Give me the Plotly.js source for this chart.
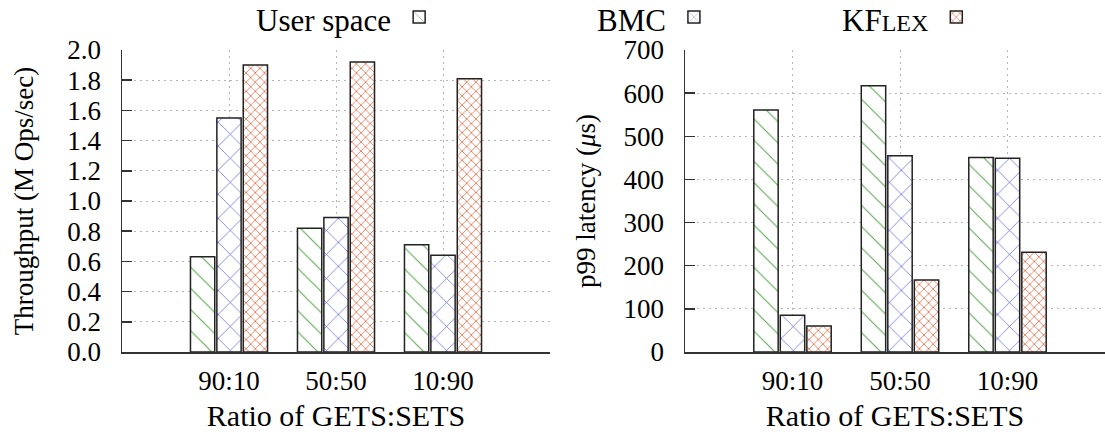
<!DOCTYPE html>
<html>
<head>
<meta charset="utf-8">
<script src="https://cdn.plot.ly/plotly-3.0.1.min.js"></script>
<style>html,body{margin:0;padding:0;background:#fff;}#chart{width:1105px;height:435px;}</style>
</head>
<body>
<div id="chart"></div>
<script>
// ---- data ----
const categories = ['90:10', '50:50', '10:90'];
const seriesNames = ['User space', 'BMC', 'KF<span style="font-size:24px">LEX</span>'];
const throughputUser = [0.63, 0.82, 0.71];
const throughputBMC = [1.55, 0.89, 0.64];
const throughputKFlex = [1.90, 1.92, 1.81];
const latencyUser = [561, 617, 451];
const latencyBMC = [85, 455, 449];
const latencyKFlex = [60, 167, 231];
const throughputTicks = [0, 0.2, 0.4, 0.6, 0.8, 1.0, 1.2, 1.4, 1.6, 1.8, 2.0];
const latencyTicks = [0, 100, 200, 300, 400, 500, 600, 700];

// ---- styles ----
const FONT = 'Liberation Serif, Times New Roman, serif';
const patterns = [
  {shape: '\\', fgcolor: '#5aa84f', bgcolor: '#ffffff', size: 15, solidity: 0.07},
  {shape: 'x', fgcolor: '#5b5bd6', bgcolor: '#ffffff', size: 17, solidity: 0.08},
  {shape: 'x', fgcolor: '#e0552a', bgcolor: '#ffffff', size: 6.5, solidity: 0.2}
];
const legendIds = ['legend', 'legend2', 'legend3'];
const plainNames = ['User space', 'BMC', 'KFlex'];

function barTrace(vals, i, xa, ya, showLeg) {
  return {
    type: 'bar', x: categories, y: vals, xaxis: xa, yaxis: ya,
    name: '', legend: legendIds[i], showlegend: showLeg,
    hovertemplate: plainNames[i] + ': %{y}<extra></extra>',
    marker: {color: '#ffffff', pattern: patterns[i], line: {color: '#222', width: 1.5}}
  };
}

const data = [
  barTrace(throughputUser, 0, 'x', 'y', true),
  barTrace(throughputBMC, 1, 'x', 'y', true),
  barTrace(throughputKFlex, 2, 'x', 'y', true),
  barTrace(latencyUser, 0, 'x2', 'y2', false),
  barTrace(latencyBMC, 1, 'x2', 'y2', false),
  barTrace(latencyKFlex, 2, 'x2', 'y2', false)
];

const gridStyle = {showgrid: true, gridcolor: '#b5b5b5', griddash: '2px,4px', gridwidth: 1};
const yDomain = [83 / 435, 385 / 435];

function xAxis(domain, range, anchor) {
  return Object.assign({
    domain: domain, range: range, anchor: anchor, type: 'category',
    showline: true, linecolor: '#333', linewidth: 1.5, ticks: '', zeroline: false,
    tickfont: {family: FONT, size: 27, color: '#000'}, ticklabelstandoff: 4,
    title: {text: 'Ratio of GETS:SETS', font: {family: FONT, size: 30, color: '#000'}, standoff: 10}
  }, gridStyle);
}
function yAxis(range, ticks, fmt, title, anchor, standoff) {
  return Object.assign({
    domain: yDomain, range: range, anchor: anchor, tickvals: ticks, tickformat: fmt,
    showline: true, linecolor: '#333', linewidth: 1.5, ticks: 'inside', ticklen: 10,
    tickcolor: '#333', tickwidth: 1.5, zeroline: false,
    tickfont: {family: FONT, size: 27, color: '#000'}, ticklabelstandoff: 14,
    title: {text: title, font: {family: FONT, size: 27, color: '#000'}, standoff: standoff}
  }, gridStyle);
}

function legendCfg(i, x) {
  return {
    x: x, y: 1.022, xanchor: 'left', yanchor: 'top', orientation: 'h',
    bgcolor: 'rgba(0,0,0,0)', borderwidth: 0,
    font: {family: FONT, size: 31, color: '#000'},
    title: {text: seriesNames[i], side: 'left', font: {family: FONT, size: 31, color: '#000'}}
  };
}

const layout = {
  width: 1105, height: 435,
  margin: {l: 0, r: 0, t: 0, b: 0, autoexpand: false},
  paper_bgcolor: '#fff', plot_bgcolor: '#fff',
  font: {family: FONT, color: '#000'},
  barmode: 'group', bargap: 0.26, bargroupgap: 0.08,
  xaxis: xAxis([122 / 1105, 550 / 1105], [-1, 3], 'y'),
  yaxis: yAxis([0, 2.0], throughputTicks, '.1f', 'Throughput (M Ops/sec)', 'x', 26),
  xaxis2: xAxis([685 / 1105, 1], [-1, 2.907], 'y2'),
  yaxis2: yAxis([0, 700], latencyTicks, 'd', '\u00a0\u00a0\u00a0\u00a0p99 latency (<i>μ</i>s)', 'x2', 20),
  legend: legendCfg(0, 254 / 1105),
  legend2: legendCfg(1, 595 / 1105),
  legend3: legendCfg(2, 840 / 1105)
};

Plotly.newPlot('chart', data, layout, {displayModeBar: false, staticPlot: true});
</script>
</body>
</html>
